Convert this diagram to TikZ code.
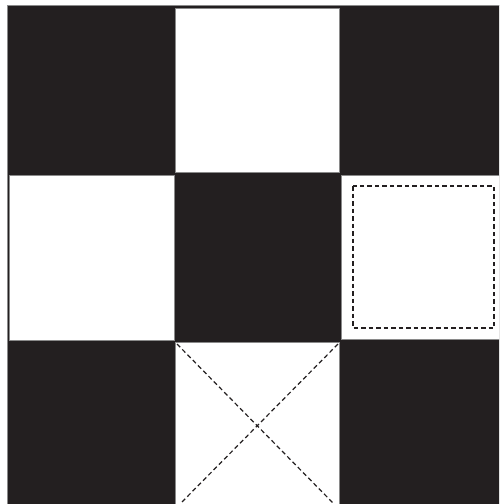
\documentclass[tikz,border=0pt]{standalone}
\definecolor{ink}{HTML}{231F20}
\definecolor{edge}{HTML}{8A8A8A}
\begin{document}
\begin{tikzpicture}[x=1pt,y=-1pt,
  cellw/.style={fill=white,draw=edge,line width=0.6pt},
  dashline/.style={draw=ink,line width=1.2pt,dash pattern=on 4.5pt off 3pt}]
\useasboundingbox (0,0) rectangle (499,504);
\clip (0,0) rectangle (499,504);
\fill[white] (0,0) rectangle (499,504);
\draw[fill=ink,draw=edge,line width=0.6pt] (7,5) rectangle (510,515);
\draw[cellw] (175,8) rectangle (339,172);
\draw[cellw] (9.5,175) rectangle (174,340);
\draw[cellw] (341,175) rectangle (510,339.5);
\draw[cellw] (175,342) rectangle (339,510);
\draw[dashline] (353,186) rectangle (494,328);
\coordinate (tl) at (177,344);
\coordinate (tr) at (338,344);
\coordinate (bl) at (180,504);
\coordinate (br) at (333,503);
\draw[dashline] (tl) -- (br);
\draw[dashline] (tr) -- (bl);
\end{tikzpicture}
\end{document}
